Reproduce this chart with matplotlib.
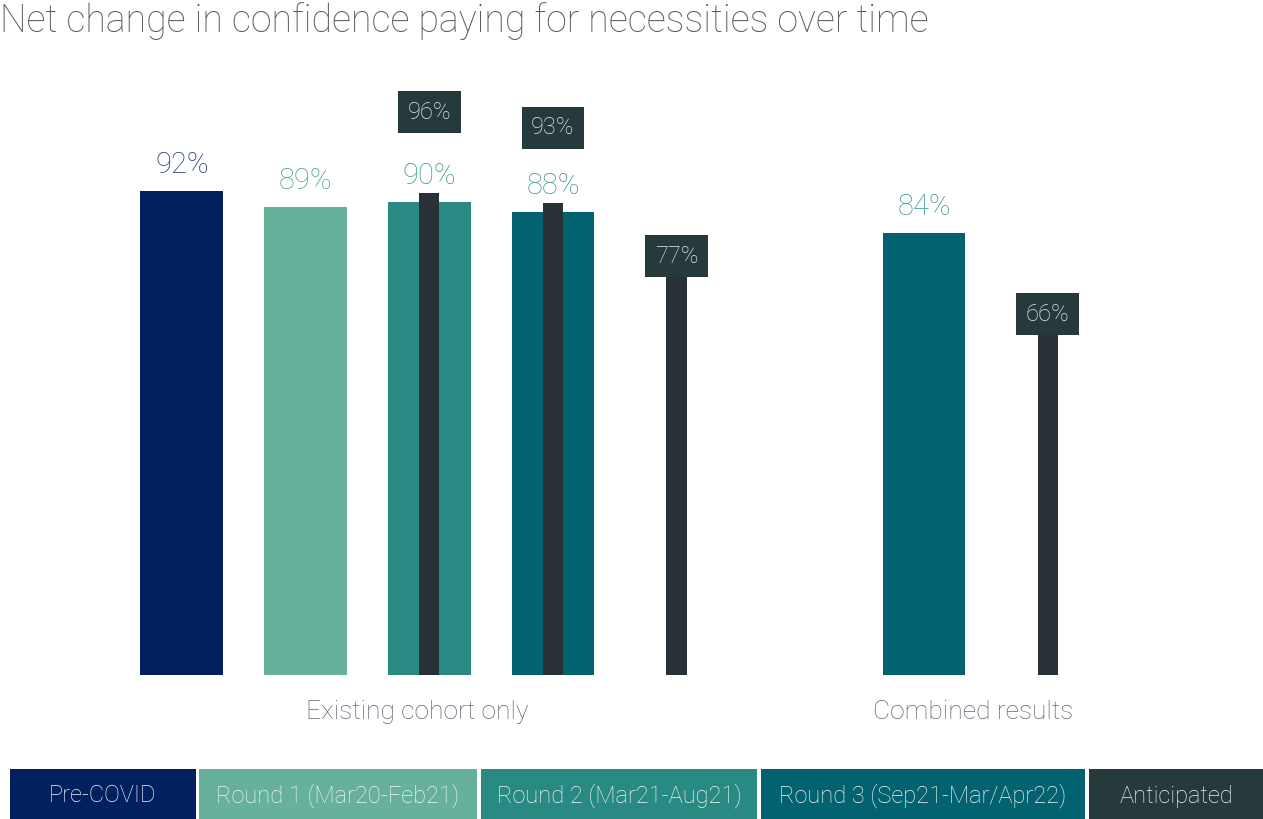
import matplotlib.pyplot as plt
from matplotlib.patches import Rectangle

plt.rcParams['font.family'] = ['Roboto', 'DejaVu Sans']

# Survey results (% net confident paying for necessities)
series = ['Pre-COVID', 'Round 1 (Mar20-Feb21)', 'Round 2 (Mar21-Aug21)',
          'Round 3 (Sep21-Mar/Apr22)', 'Anticipated']
bar_pos = [0, 1, 2, 3, 6]
bar_vals = [92, 89, 90, 88, 84]
bar_series = [0, 1, 2, 3, 3]

antic_pos = [2, 3, 4, 7]
antic_vals = [96, 93, 77, 66]

groups = ['Existing cohort only', 'Combined results']
group_pos = [1.9, 6.4]

colors = ['#01205F', '#66B09C', '#298983', '#02626F', '#283236']
label_colors = ['#22397A', '#4FA08F', '#3F9A8D', '#3F9A8D', '#3F9A8D']
box_color = '#263A3C'
grey = '#5F6673'

fig = plt.figure(figsize=(12.63, 8.19), dpi=100)
ax = fig.add_axes([0, 144 / 819, 1, 675 / 819])
ax.set_xlim(-1.47, 8.74)
ax.set_ylim(0, 128.3)
ax.axis('off')

for x, v, s in zip(bar_pos, bar_vals, bar_series):
    ax.bar(x, v, width=0.67, color=colors[s], zorder=1)

for x, v in zip(antic_pos, antic_vals):
    ax.bar(x, v, width=0.165, color=colors[4], zorder=2)

# value labels for the survey rounds; white backing keeps them clear of the thin bars
for x, v, s in zip(bar_pos, bar_vals, bar_series):
    ax.text(x, v + 2.2, f'{v}%', ha='center', va='bottom', fontsize=21,
            fontweight='light', color=label_colors[s], zorder=3,
            bbox=dict(facecolor='white', edgecolor='none', pad=2))

for x, v in zip(antic_pos, antic_vals):
    offset = 11 if x in bar_pos else 2.6
    ax.text(x, v + offset, f'{v}%', ha='center', va='center', fontsize=17,
            fontweight='light', color='#E8ECEC', zorder=4,
            bbox=dict(facecolor=box_color, edgecolor='none', pad=7))

for gx, g in zip(group_pos, groups):
    ax.text(gx, -7, g, ha='center', va='center', fontsize=19,
            fontweight='light', color=grey, clip_on=False)

fig.text(0.0, 0.997, 'Net change in confidence paying for necessities over time',
         ha='left', va='top', fontsize=27, fontweight='light', color='#595959')

# legend strip along the bottom
legend_x = [10, 199, 481, 761, 1089]
legend_w = [186, 278, 276, 324, 174]
for i, name in enumerate(series):
    x0 = legend_x[i] / 1263
    w = legend_w[i] / 1263
    fig.patches.append(Rectangle((x0, 0), w, 50 / 819, transform=fig.transFigure,
                                 facecolor=colors[i] if i < 4 else box_color,
                                 edgecolor='none'))
    fig.text(x0 + w / 2, 23 / 819, name, ha='center', va='center', fontsize=17,
             fontweight='light', color='#F2F4F4')

fig.savefig('out.png', dpi=100)
